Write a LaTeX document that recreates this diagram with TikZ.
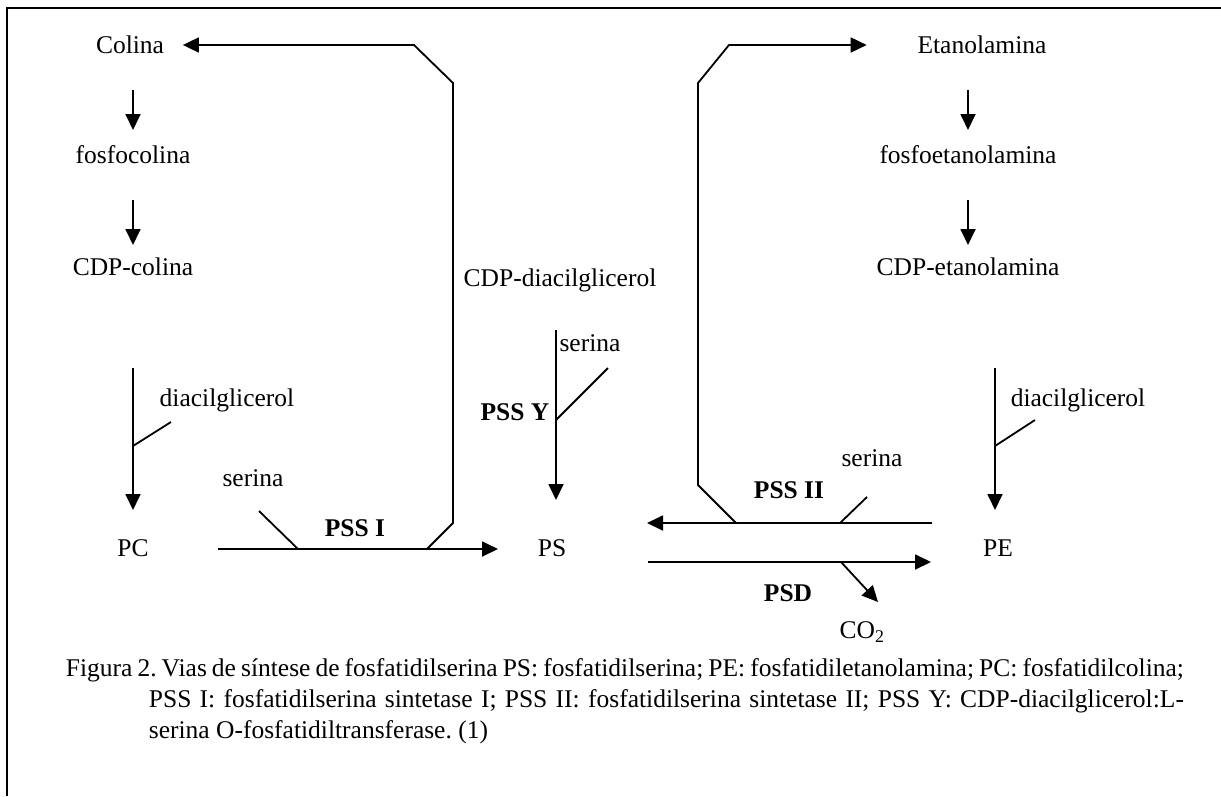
\documentclass[tikz,border=0pt]{standalone}
\usepackage{fontspec}
\setmainfont{Liberation Serif}
\usetikzlibrary{arrows.meta, positioning}

\begin{document}
\begin{tikzpicture}[x=1pt, y=-1pt, line width=1.8pt, >={Triangle[length=16pt, width=15pt]},
  every node/.style={inner sep=0pt, font=\fontsize{25.5}{31}\selectfont},
  enzima/.style={font=\fontsize{25.5}{31}\selectfont\bfseries}]
\useasboundingbox (0,0) rectangle (1221,796);
% Moldura
\draw (7,796) -- (7,8) -- (1221,8);

% Compostos
\node (colina) at (130,45) {Colina};
\node (fcol) at (133,155) {fosfocolina};
\node (cdpcol) at (133,267) {CDP-colina};
\node (pc) at (133,548) {PC};
\node (cdpdag) at (560,280) {CDP-diacilglicerol};
\node (ps) at (552,548) {PS};
\node (etan) at (982,45) {Etanolamina};
\node (feta) at (968,155) {fosfoetanolamina};
\node (cdpeta) at (968,267) {CDP-etanolamina};
\node (pe) at (998,548) {PE};
\node (co2) at (862,632) {CO\textsubscript{2}};
\node (dag1) at (227,400) {diacilglicerol};
\node (ser1) at (253,478) {serina};
\node (ser2) at (590,343) {serina};
\node (ser3) at (872,458) {serina};
\node (dag2) at (1078,400) {diacilglicerol};

% Enzimas
\node[enzima] (pss1) at (355,528) {PSS I};
\node[enzima] (pssy) at (515,412) {PSS Y};
\node[enzima] (pss2) at (789,490) {PSS II};
\node[enzima] (psd) at (788,593) {PSD};

% Via da colina
\draw[->] (fcol) ++(0,-65) -- ++(0,40);
\draw[->] (cdpcol) ++(0,-67) -- ++(0,45);
\draw[->] (pc) ++(0,-180) -- ++(0,142);
\draw (pc) ++(0,-102) -- ++(38,-24);

% Via da etanolamina
\draw[->] (feta) ++(0,-65) -- ++(0,40);
\draw[->] (cdpeta) ++(0,-67) -- ++(0,45);
\draw[->] (pe) ++(-3,-180) -- ++(0,142);
\draw (pe) ++(-3,-102) -- ++(40,-26);

% PSS Y
\draw[->] (ps) ++(4,-218) -- ++(0,170);
\draw (ps) ++(4,-128) -- ++(52,-52);

% PSS I
\draw[->] (pc) ++(85,1) -- ++(280,0);
\draw (pc) ++(165,1) -- ++(-39,-38);
\draw[->, shorten >=18pt] (pc) ++(294,1) -- ++(26,-26) -- ++(0,-440) -- ++(-39,-38) -- (colina.east);

% PSS II
\draw[->] (pe) ++(-66,-25) -- ++(-285,0);
\draw (pe) ++(-158,-25) -- ++(27,-26);
\draw[->, shorten >=50pt] (pe) ++(-262,-25) -- ++(-38,-38) -- ++(0,-402) -- ++(31,-38) -- (etan.west);

% PSD
\draw[->] (ps) ++(96,14) -- ++(283,0);
\draw[->] (ps) ++(289,14) -- ++(37,40);

% Legenda
\node[anchor=north west, text width=1118pt, align=justify] (legenda) at (65,658)
  {\frenchspacing\hyphenpenalty=10000\hangindent=83pt\hangafter=1 Figura 2. Vias de síntese de fosfatidilserina PS: fosfatidilserina; PE: fosfatidiletanolamina; PC: fosfatidilcolina;\linebreak PSS I: fosfatidilserina sintetase I; PSS II: fosfatidilserina sintetase II; PSS Y: CDP-diacilglicerol:L-\linebreak serina O-fosfatidiltransferase. (1)\par};
\end{tikzpicture}
\end{document}
